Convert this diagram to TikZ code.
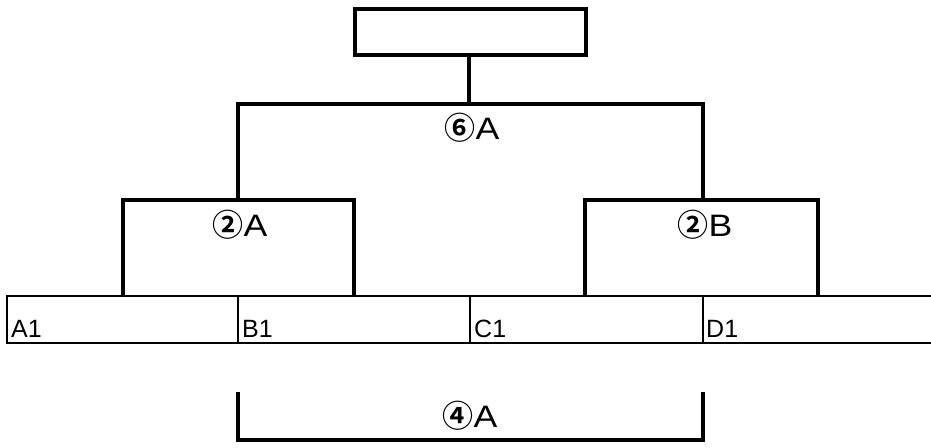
\documentclass[tikz,border=0pt]{standalone}
\usepackage{fontspec}
\setmainfont{Liberation Sans}
\newfontfamily\circfont{Noto Sans CJK JP}[BoldFont={Noto Sans CJK JP Bold}]
\newfontfamily\wideA[FakeStretch=1.15]{Liberation Sans}
\newcommand{\marktext}[2]{{\circfont\bfseries #1}{\wideA #2}}
\begin{document}
\begin{tikzpicture}[x=1pt,y=-1pt,
  heavy/.style={line width=4.3pt},
  light/.style={line width=2.2pt},
  marklabel/.style={font=\fontsize{31}{31}\selectfont,inner sep=0pt,anchor=base},
  celllabel/.style={font=\fontsize{25}{25}\selectfont,inner sep=0pt,anchor=base west}]
\useasboundingbox (0,0) rectangle (931,447);
\node[draw,heavy,minimum width=231pt,minimum height=46pt,inner sep=0pt] (root) at (470.5,32) {};
\coordinate (join) at (469,104);
\coordinate (leftarm) at (238,200);
\coordinate (rightarm) at (703,200);
\draw[heavy] (root.south -| join) -- (join);
\draw[heavy] (leftarm) -- (leftarm |- join) -- (rightarm |- join) -- (rightarm);
\draw[heavy] (123,296) -- (123,200) -- (354,200) -- (354,296);
\draw[heavy] (585,296) -- (585,200) -- (818,200) -- (818,296);
\draw[heavy] (238,392) -- (238,440) -- (703,440) -- (703,392);
\node[marklabel] (six) at (472,139) {\marktext{⑥}{A}};
\node[marklabel] (twoA) at (240,236) {\marktext{②}{A}};
\node[marklabel] (twoB) at (705,236) {\marktext{②}{B}};
\node[marklabel] (four) at (470,427) {\marktext{④}{A}};
\draw[light] (931,296) -- (7,296) -- (7,343) -- (931,343);
\foreach \x in {238,470,703} \draw[light] (\x,296) -- (\x,343);
\node[celllabel] (a1) at (11,337) {A1};
\node[celllabel] (b1) at (242,337) {B1};
\node[celllabel] (c1) at (474,337) {C1};
\node[celllabel] (d1) at (706,337) {D1};
\end{tikzpicture}
\end{document}
